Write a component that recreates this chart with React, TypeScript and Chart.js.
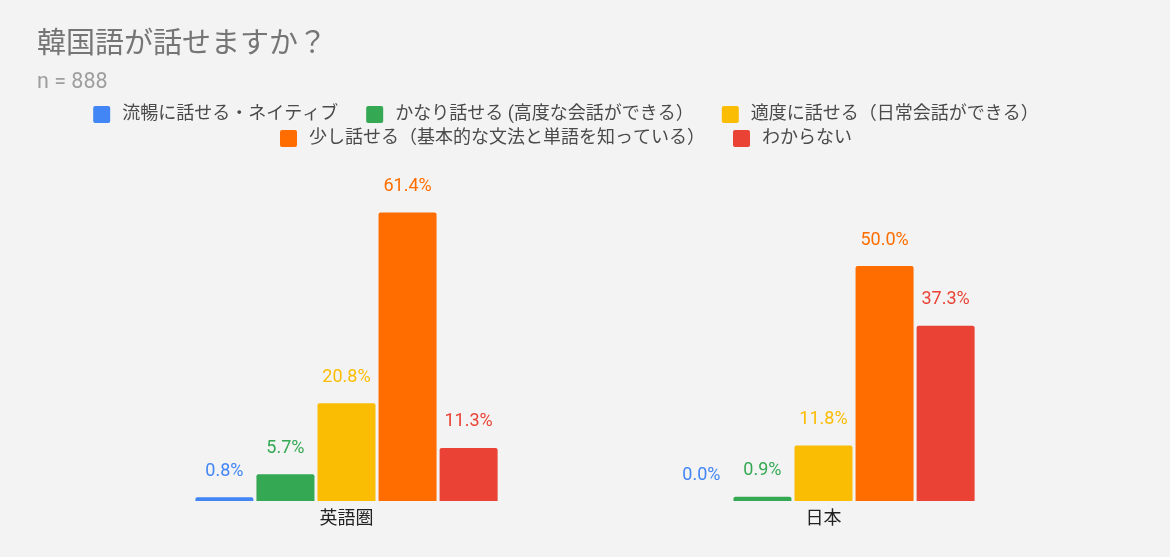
import { useEffect, useRef } from 'react';
import { Chart, registerables } from 'chart.js';

Chart.register(...registerables);

const title = '韓国語が話せますか？';
const subtitle = 'n = 888';
const regions = ['英語圏', '日本'];
const levels = [
    '流暢に話せる・ネイティブ',
    'かなり話せる (高度な会話ができる）',
    '適度に話せる（日常会話ができる）',
    '少し話せる（基本的な文法と単語を知っている）',
    'わからない',
];
const levelColors = ['#4285f4', '#34a853', '#fbbc04', '#ff6d01', '#ea4335'];

// percent per region: [英語圏, 日本]
const fluent = [0.8, 0.0];
const fairly = [5.7, 0.9];
const moderate = [20.8, 11.8];
const little = [61.4, 50.0];
const unknown = [11.3, 37.3];
const seriesValues = [fluent, fairly, moderate, little, unknown];

const FONT = 'Roboto, "Noto Sans CJK JP", sans-serif';

// title, subtitle and a wrapped legend drawn straight onto the canvas
const headerPlugin = {
    id: 'header',
    afterDraw(chart: any) {
        const { ctx } = chart;
        ctx.save();
        ctx.textAlign = 'left';
        ctx.textBaseline = 'middle';

        ctx.fillStyle = '#757575';
        ctx.font = `29px ${FONT}`;
        ctx.fillText(title, 37, 46);

        ctx.fillStyle = '#9e9e9e';
        ctx.font = `21.5px ${FONT}`;
        ctx.fillText(subtitle, 37, 83);

        ctx.font = `18px ${FONT}`;
        const box = 17;
        const gap = 12;
        const spacing = 28;
        const maxWidth = 1000;
        const items = chart.data.datasets.map((ds: any) => ({
            label: ds.label,
            color: ds.backgroundColor,
            width: box + gap + ctx.measureText(ds.label).width,
        }));

        const rows: { items: any[]; width: number }[] = [];
        let current: any[] = [];
        let currentWidth = 0;
        items.forEach((item: any) => {
            const add = (current.length ? spacing : 0) + item.width;
            if (current.length && currentWidth + add > maxWidth) {
                rows.push({ items: current, width: currentWidth });
                current = [item];
                currentWidth = item.width;
            } else {
                current.push(item);
                currentWidth += add;
            }
        });
        rows.push({ items: current, width: currentWidth });

        rows.forEach((row, i) => {
            const y = 114.5 + i * 24;
            let x = 566 - row.width / 2;
            row.items.forEach((item) => {
                ctx.fillStyle = item.color;
                ctx.beginPath();
                ctx.roundRect(x, y - box / 2, box, box, 2);
                ctx.fill();
                ctx.fillStyle = '#4a4a4a';
                ctx.fillText(item.label, x + box + gap, y);
                x += item.width + spacing;
            });
        });
        ctx.restore();
    },
};

// percentage above every bar, in the bar's colour
const valueLabelPlugin = {
    id: 'valueLabels',
    afterDatasetsDraw(chart: any) {
        const { ctx } = chart;
        ctx.save();
        ctx.font = `18px ${FONT}`;
        ctx.textAlign = 'center';
        ctx.textBaseline = 'alphabetic';
        chart.data.datasets.forEach((ds: any, i: number) => {
            chart.getDatasetMeta(i).data.forEach((bar: any, j: number) => {
                ctx.fillStyle = ds.backgroundColor;
                ctx.fillText(`${ds.data[j].toFixed(1)}%`, bar.x, bar.y - 21.5);
            });
        });
        ctx.restore();
    },
};

export default function App() {
    const chartRef = useRef<HTMLCanvasElement>(null);
    const chartInstanceRef = useRef<Chart | null>(null);

    useEffect(() => {
        if (!chartRef.current) return;
        const ctx = chartRef.current.getContext('2d');
        if (!ctx) return;

        if (chartInstanceRef.current) {
            chartInstanceRef.current.destroy();
        }

        chartInstanceRef.current = new Chart(ctx, {
            type: 'bar',
            data: {
                labels: regions,
                datasets: levels.map((label, i) => ({
                    label,
                    data: seriesValues[i],
                    backgroundColor: levelColors[i],
                    borderRadius: 2,
                    barPercentage: 0.95,
                    categoryPercentage: 0.64,
                })),
            },
            options: {
                animation: false,
                responsive: true,
                maintainAspectRatio: false,
                events: [],
                layout: {
                    padding: { top: 172, left: 108, right: 108, bottom: 0 },
                },
                scales: {
                    x: {
                        grid: { display: false, drawTicks: false },
                        border: { display: false },
                        ticks: {
                            color: '#222222',
                            padding: 8,
                            font: { family: FONT, size: 18 },
                        },
                        afterFit: (scale: any) => {
                            scale.height = 56;
                        },
                    },
                    y: {
                        display: false,
                        min: 0,
                        max: 70,
                    },
                },
                plugins: {
                    legend: { display: false },
                    tooltip: { enabled: false },
                },
            },
            plugins: [headerPlugin, valueLabelPlugin],
        });

        return () => {
            if (chartInstanceRef.current) {
                chartInstanceRef.current.destroy();
                chartInstanceRef.current = null;
            }
        };
    }, []);

    return (
        <div
            style={{
                position: 'absolute',
                left: 0,
                top: 0,
                width: 1170,
                height: 557,
                background: '#f3f3f3',
            }}
        >
            <canvas ref={chartRef}></canvas>
        </div>
    );
}
